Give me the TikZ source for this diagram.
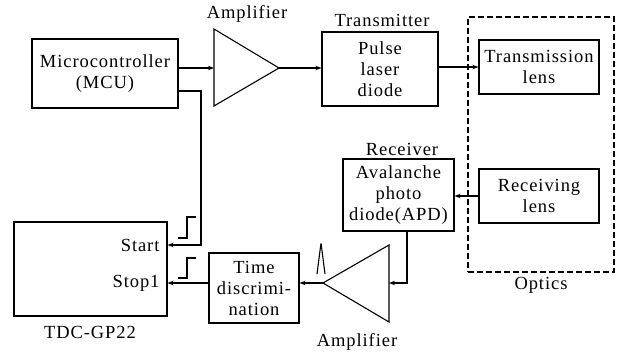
\documentclass[tikz,border=0pt]{standalone}
\usepackage{fontspec}
\setmainfont{Liberation Serif}[LetterSpace=5]
\usetikzlibrary{arrows.meta}
\newcommand\dfont{\fontsize{18.5}{21}\selectfont}
\begin{document}
\begin{tikzpicture}[x=1pt,y=-1pt, line width=1.1pt,
  box/.style={draw, inner sep=0pt, align=center, font=\dfont},
  arr/.style={-{Stealth[length=6pt,width=4.5pt]}},
  lbl/.style={font=\dfont, inner sep=0pt}]
\useasboundingbox (0,0) rectangle (621,351);
% boxes
\node[box, minimum width=146pt, minimum height=69pt] (mcu) at (105,73.5) {Microcontroller\\(MCU)};
\node[box, minimum width=116pt, minimum height=74pt] (tx) at (380,69) {Pulse\\laser\\diode};
\node[lbl] (txl) at (382,20) {Transmitter};
\node[draw, dashed, dash pattern=on 6pt off 3pt, minimum width=146pt, minimum height=255pt, inner sep=0pt] (opt) at (541,144.5) {};
\node[lbl] (optl) at (541,285) {Optics};
\node[box, minimum width=120pt, minimum height=54pt] (tlens) at (539,67) {Transmission\\lens};
\node[box, minimum width=120pt, minimum height=54pt] (rlens) at (539,196) {Receiving\\lens};
\node[box, minimum width=111pt, minimum height=72pt] (apd) at (398.5,195) {Avalanche\\photo\\diode(APD)};
\node[lbl] (rxl) at (402,149) {Receiver};
\node[box, minimum width=90pt, minimum height=70pt] (td) at (254,288) {Time\\discrimi-\\nation};
\node[box, minimum width=153pt, minimum height=94pt] (tdc) at (90.5,269) {};
\node[lbl] (tdcl) at (90,332) {TDC-GP22};
\node[lbl, anchor=east] (start) at (160,245) {Start};
\node[lbl, anchor=east] (stop) at (160,283) {Stop1};
% amplifiers
\coordinate (a1t) at (214,29);
\coordinate (a1b) at (214,106);
\coordinate (a1o) at (279,68);
\draw (a1t) -- (a1o) -- (a1b) -- cycle;
\node[lbl] (a1l) at (247,14) {Amplifier};
\coordinate (a2t) at (389,245);
\coordinate (a2b) at (389,322);
\coordinate (a2o) at (323,283);
\draw (a2t) -- (a2o) -- (a2b) -- cycle;
\node[lbl] (a2l) at (357,342) {Amplifier};
% connectors
\draw[arr] (mcu.east |- a1o) -- (a1t |- a1o);
\draw[arr] (a1o) -- (tx.west |- a1o);
\draw[arr] (tx.east |- tlens.west) -- (tlens.west);
\draw[arr] (rlens.west) -- (apd.east |- rlens.west);
\coordinate (k) at (407,283);
\draw[arr] (apd.south -| k) -- (k) -- (a2t |- a2o);
\draw[arr] (a2o) -- (td.east |- a2o);
\draw[arr] (td.west |- a2o) -- (tdc.east |- a2o);
\coordinate (m1) at (201,91);
\coordinate (sy) at (0,245);
\draw[arr] (mcu.east |- m1) -- (m1) -- (m1 |- sy) -- (tdc.east |- sy);
% signal symbols
\draw (178,238) -- (187,238) -- (187,217) -- (196,217);
\draw (178,278) -- (187,278) -- (187,258) -- (196,258);
\draw[rounded corners=1pt] (317,274) -- (321,243) -- (325,274);
\end{tikzpicture}
\end{document}
